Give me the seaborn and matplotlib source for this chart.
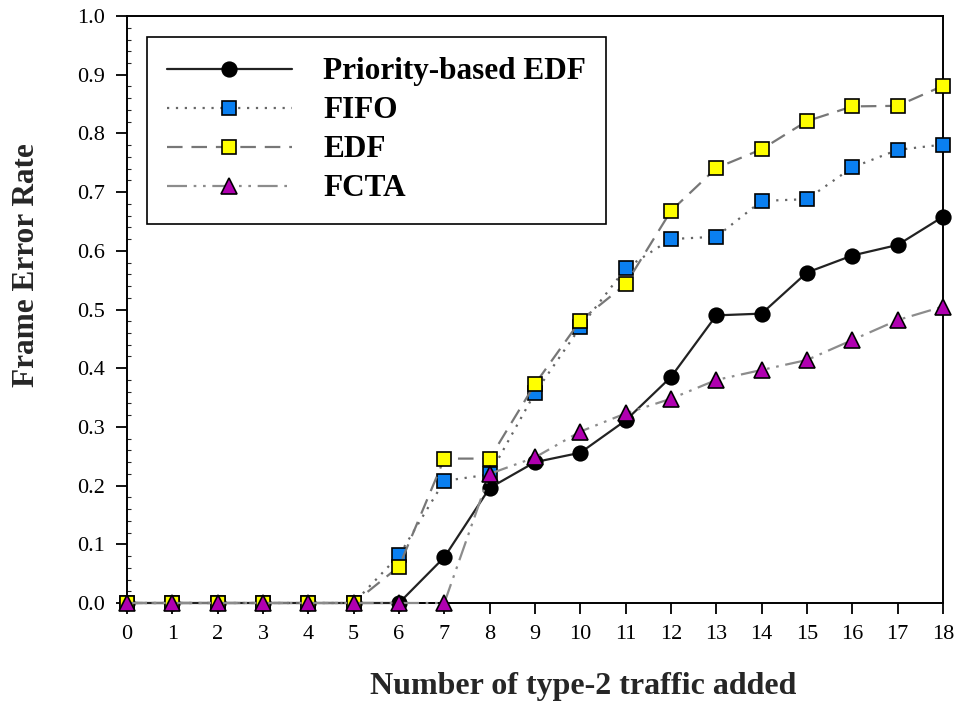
import numpy as np
import pandas as pd
import matplotlib
matplotlib.use("Agg")
import matplotlib.pyplot as plt
from matplotlib.ticker import MultipleLocator
import seaborn as sns

# Number of type-2 traffic flows added
traffic = list(range(19))

# Frame error rate for each scheduling scheme
priority_edf = [0, 0, 0, 0, 0, 0, 0, 0.078, 0.196, 0.240, 0.256, 0.311, 0.385,
                0.490, 0.493, 0.563, 0.592, 0.610, 0.658]
fifo = [0, 0, 0, 0, 0, 0, 0.081, 0.208, 0.219, 0.358, 0.470, 0.570, 0.620,
        0.624, 0.685, 0.688, 0.742, 0.772, 0.781]
edf = [0, 0, 0, 0, 0, 0, 0.062, 0.246, 0.246, 0.373, 0.481, 0.543, 0.668,
       0.741, 0.773, 0.821, 0.846, 0.847, 0.881]
fcta = [0, 0, 0, 0, 0, 0, 0, 0, 0.220, 0.248, 0.292, 0.323, 0.348,
        0.380, 0.397, 0.414, 0.448, 0.482, 0.505]

labels = ["Priority-based EDF", "FIFO", "EDF", "FCTA"]
series = [priority_edf, fifo, edf, fcta]

sns.set_theme(style="ticks")
plt.rcParams["font.family"] = ["Liberation Serif", "DejaVu Serif"]

fig = plt.figure(figsize=(9.58, 7.06), dpi=100)
ax = fig.add_axes([0.1326, 0.1459, 0.8517, 0.8314])

styles = [
    dict(color="#222222", marker="o", markerfacecolor="black", linestyle="-", lw=1.6),
    dict(color="#666666", marker="s", markerfacecolor="#0a7ff0", linestyle=(0, (1, 3)), lw=1.6),
    dict(color="#777777", marker="s", markerfacecolor="#ffff00", linestyle=(0, (7, 4)), lw=1.6),
    dict(color="#8c8c8c", marker="^", markerfacecolor="#b000b0", linestyle=(0, (9, 3, 1.2, 3, 1.2, 3)), lw=1.6),
]

for lab, vals, st in zip(labels, series, styles):
    df = pd.DataFrame({"x": traffic, "y": vals})
    sns.lineplot(data=df, x="x", y="y", ax=ax, label=lab,
                 color=st["color"], marker=st["marker"],
                 markerfacecolor=st["markerfacecolor"], markeredgecolor="black",
                 markeredgewidth=1.2, markersize=10.5 if st["marker"] != "^" else 11,
                 linestyle=st["linestyle"], linewidth=st["lw"], clip_on=False,
                 zorder=3)

ax.set_xlim(0, 18)
ax.set_ylim(0, 1.0)
ax.set_xticks(traffic)
ax.set_yticks(np.arange(0, 1.01, 0.1))
ax.set_yticklabels([f"{v:.1f}" for v in np.arange(0, 1.01, 0.1)])
ax.yaxis.set_minor_locator(MultipleLocator(0.02))
ax.tick_params(axis="both", which="major", direction="out", length=8, width=1.3,
               labelsize=16, colors="black", pad=8)
ax.tick_params(axis="y", which="minor", direction="in", length=3, width=0.8)
for sp in ax.spines.values():
    sp.set_visible(True)
    sp.set_color("black")
    sp.set_linewidth(1.4)

ax.set_xlabel("Number of type-2 traffic added", fontsize=23, fontweight="bold")
ax.set_ylabel("Frame Error Rate", fontsize=22.5, fontweight="bold")
ax.xaxis.set_label_coords(0.559, -0.118)
ax.yaxis.set_label_coords(-0.106, 0.576)

leg = ax.legend(loc="upper left", bbox_to_anchor=(0.024, 0.964), frameon=True,
                fancybox=False, edgecolor="black", framealpha=1,
                prop={"family": "Liberation Serif", "weight": "bold", "size": 22.5},
                handlelength=4.0, handletextpad=1.0, labelspacing=0.32,
                borderpad=0.65, borderaxespad=0)
leg.get_frame().set_linewidth(1.2)
for t in leg.get_texts():
    t.set_color("black")

fig.savefig("out.png", dpi=100)
